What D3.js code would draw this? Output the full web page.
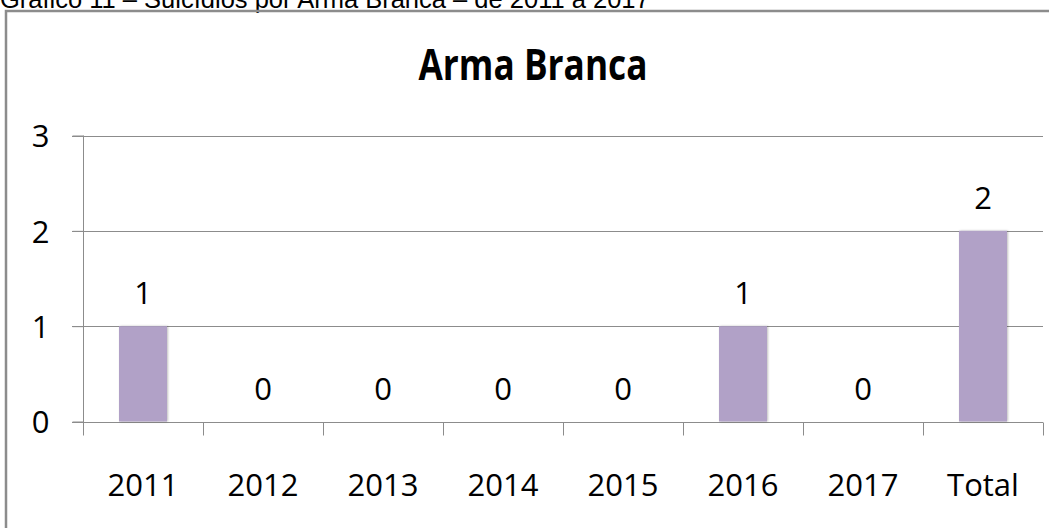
<!DOCTYPE html>
<html lang="pt">
	<head>
		<meta charset="utf-8">
		<title>Arma Branca</title>
		<script type="text/javascript" src="https://cdn.jsdelivr.net/npm/d3@7"></script>
		<style type="text/css">
			body { margin: 0; background: #fff; overflow: hidden; }
		</style>
	</head>
	<body>
		<script type="text/javascript">

			// data
			var categories = ["2011", "2012", "2013", "2014", "2015", "2016", "2017", "Total"];
			var values = [1, 0, 0, 0, 0, 1, 0, 2];
			var yTicks = [0, 1, 2, 3];
			var caption = "Gráfico 11 – Suicídios por Arma Branca – de 2011 a 2017";
			var title = "Arma Branca";

			var w = 1049;
			var h = 528;
			var font = "'Open Sans', sans-serif";

			var svg = d3.select("body")
						.append("svg")
						.attr("width", w)
						.attr("height", h);

			// caption above the frame (cut off at the top, as in the original)
			svg.append("text")
			   .attr("x", 0)
			   .attr("y", 8)
			   .attr("font-family", "'Liberation Sans', Arial, sans-serif")
			   .attr("font-size", "25.5px")
			   .attr("fill", "#000")
			   .text(caption);

			// chart frame
			svg.append("rect")
			   .attr("x", 6)
			   .attr("y", 11)
			   .attr("width", 1060)
			   .attr("height", 540)
			   .attr("fill", "none")
			   .attr("stroke", "#8c8c8c")
			   .attr("stroke-width", 2.5);

			var xScale = d3.scaleBand()
							.domain(categories)
							.range([83, 1043])
							.padding(0);

			var yScale = d3.scaleLinear()
							.domain([0, 3])
							.range([421.5, 135.5]);

			// title
			svg.append("text")
			   .attr("transform", "translate(533,80) scale(0.82,1)")
			   .attr("text-anchor", "middle")
			   .attr("font-family", font)
			   .attr("font-weight", "bold")
			   .attr("font-size", "43px")
			   .text(title);

			// gridlines
			svg.selectAll("line.grid")
			   .data(yTicks.filter(function(d) { return d > 0; }))
			   .enter()
			   .append("line")
			   .attr("class", "grid")
			   .attr("x1", 72)
			   .attr("x2", 1043)
			   .attr("y1", function(d) { return Math.round(yScale(d)) + 0.5; })
			   .attr("y2", function(d) { return Math.round(yScale(d)) + 0.5; })
			   .attr("stroke", "#8c8c8c")
			   .attr("stroke-width", 1);

			// y axis
			var yAxis = d3.axisLeft(yScale)
						  .tickValues(yTicks)
						  .tickSize(11)
						  .tickPadding(23)
						  .tickFormat(d3.format("d"));

			var gy = svg.append("g")
						.attr("transform", "translate(83.5,0)")
						.call(yAxis);

			// x axis
			var xAxis = d3.axisBottom(xScale)
						  .tickSize(0)
						  .tickPadding(51);

			var gx = svg.append("g")
						.attr("transform", "translate(0," + (Math.round(yScale(0)) + 0.5) + ")")
						.call(xAxis);

			// x ticks at band boundaries
			gx.selectAll("line.sep")
			  .data(categories.concat(["end"]))
			  .enter()
			  .append("line")
			  .attr("class", "sep")
			  .attr("x1", function(d, i) { return Math.round(83 + i * xScale.step()) + 0.5; })
			  .attr("x2", function(d, i) { return Math.round(83 + i * xScale.step()) + 0.5; })
			  .attr("y1", 0)
			  .attr("y2", 13)
			  .attr("stroke", "#8c8c8c");

			[gx, gy].forEach(function(g) {
				g.select(".domain").attr("stroke", "#8c8c8c");
				g.selectAll(".tick line").attr("stroke", "#8c8c8c");
				g.selectAll(".tick text")
				 .attr("font-family", font)
				 .attr("font-size", "31px")
				 .attr("fill", "#000");
			});
			gx.select(".domain").attr("d", "M72,0H1043");
			gy.select(".domain").attr("d", "M0,135.5V435");
			gy.selectAll(".tick text").attr("dy", "0.36em");

			var barW = xScale.bandwidth() * 0.4;

			// bars
			svg.selectAll("rect.bar")
			   .data(values)
			   .enter()
			   .append("rect")
			   .attr("class", "bar")
			   .attr("x", function(d, i) { return xScale(categories[i]) + (xScale.bandwidth() - barW) / 2; })
			   .attr("y", function(d) { return yScale(d); })
			   .attr("width", barW)
			   .attr("height", function(d) { return yScale(0) - yScale(d); })
			   .attr("fill", "#b1a1c7")
			   .style("filter", "drop-shadow(1px 0px 1px rgba(0,0,0,0.25))");

			// value labels
			svg.selectAll("text.val")
			   .data(values)
			   .enter()
			   .append("text")
			   .attr("class", "val")
			   .attr("text-anchor", "middle")
			   .attr("x", function(d, i) { return xScale(categories[i]) + xScale.bandwidth() / 2; })
			   .attr("y", function(d) { return yScale(d) - 22; })
			   .attr("font-family", font)
			   .attr("font-size", "31px")
			   .attr("fill", "#000")
			   .text(function(d) { return d; });

		</script>
	</body>
</html>
